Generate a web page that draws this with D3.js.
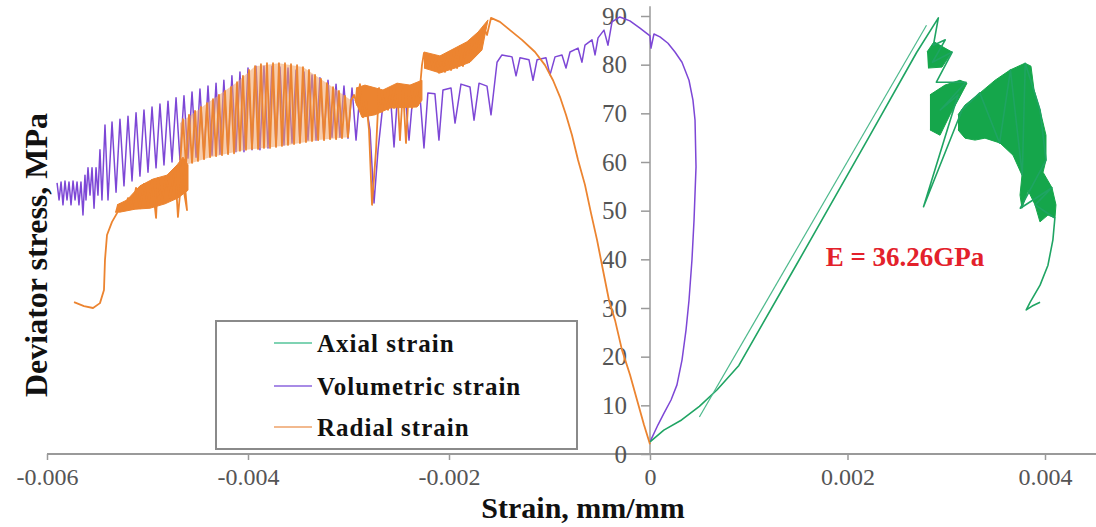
<!DOCTYPE html>
<html>
<head>
<meta charset="utf-8">
<script src="https://d3js.org/d3.v7.min.js"></script>
<style>
  body { margin: 0; background: #fff; }
  svg { display: block; }
  text { font-family: "Liberation Serif", "Times New Roman", serif; }
</style>
</head>
<body>
<div id="chart"></div>
<script>
'use strict';

// tick values
const strainTicks = [-0.006, -0.004, -0.002, 0, 0.002, 0.004];
const stressTicks = [0, 10, 20, 30, 40, 50, 60, 70, 80, 90];

const seriesNames = ['Axial strain', 'Volumetric strain', 'Radial strain'];
const modulusLabel = 'E = 36.26GPa';

// [strain, deviator stress], in loading order
const axialStrain = [
  [0, 2.5], [0.00014, 4.9], [0.00032, 7.0], [0.0005, 9.8], [0.00068, 13.2], [0.0009, 18.2],
  [0.0015, 39.5], [0.0022, 64.5], [0.0027, 82.5], [0.00292, 89.6],
  [0.00287, 84.0], [0.00299, 85.1], [0.00286, 80.5], [0.00306, 82.6], [0.0029, 76.4], [0.0032, 76.4],
  [0.00294, 70.7], [0.00312, 73.8], [0.00277, 50.8], [0.00316, 70.7], [0.00334, 74.2], [0.00354, 63.9],
  [0.00365, 78.9], [0.00377, 57.3], [0.0038, 80.3], [0.00395, 70.7], [0.00401, 60.4], [0.00375, 50.5],
  [0.00407, 54.7], [0.0039, 51.2], [0.0041, 48.5], [0.00408, 44.0], [0.00403, 38.8], [0.00395, 34.7],
  [0.00385, 31.2], [0.00381, 29.6], [0.00387, 30.4], [0.00395, 31.2]
];

// linear fit used for the modulus
const axialFit = [[0.0005, 7.6], [0.0028, 88.1]];

// dense post-peak cycles of the axial curve, drawn as filled outlines
const axialBands = [
  [[0.002805, 82.6], [0.002876, 84.7], [0.002987, 83.4], [0.003058, 82.6], [0.002957, 79.5], [0.002815, 79.3]],
  [[0.002835, 73.8], [0.002987, 75.8], [0.003139, 76.8], [0.00321, 76.2], [0.003119, 72.7], [0.003038, 69.7],
   [0.002937, 65.5], [0.002835, 66.6]],
  [[0.003119, 69.7], [0.00319, 71.7], [0.003342, 74.2], [0.003494, 76.8], [0.003646, 78.9], [0.003797, 80.3],
   [0.003858, 79.7], [0.003889, 74.8], [0.003949, 70.7], [0.00401, 65.5], [0.00401, 60.4], [0.00398, 57.9],
   [0.004071, 54.7], [0.004111, 51.2], [0.004101, 48.5], [0.00403, 49.1], [0.003949, 47.7], [0.003899, 51.2],
   [0.003828, 54.2], [0.003767, 50.5], [0.003747, 53.2], [0.003767, 57.3], [0.003676, 61.4], [0.003544, 63.9],
   [0.003392, 64.9], [0.003291, 64.5], [0.00319, 64.9], [0.003119, 66.6]]
];

const volumetricStrain = [
  [0, 2.5], [0.000081, 6.0], [0.000142, 8.4], [0.000213, 11.1], [0.000273, 14.2], [0.000324, 19.3],
  [0.000365, 25.5], [0.000395, 31.6], [0.000425, 39.9], [0.000446, 48.1], [0.000466, 59.0], [0.000456, 68.6],
  [0.000435, 72.7], [0.000395, 76.8], [0.000324, 80.5], [0.000253, 82.6], [0.000182, 84.4], [0.000101, 85.7],
  [0.00004, 86.3], [0.00001, 83.4], [0, 85.9], [-0.0001, 87.5], [-0.0002, 89.0], [-0.0003, 89.8],
  [-0.000378, 88.8], [-0.000418, 84.0], [-0.000458, 87.1], [-0.000517, 85.5], [-0.000547, 82.0], [-0.000577, 85.1],
  [-0.000647, 84.0], [-0.000677, 80.5], [-0.000716, 83.4], [-0.000796, 82.6], [-0.000836, 79.3], [-0.000876, 82.0],
  [-0.000945, 81.6], [-0.000995, 77.9], [-0.001035, 81.4], [-0.001124, 81.0], [-0.001164, 76.8], [-0.001204, 81.0],
  [-0.001294, 81.4], [-0.001333, 77.7], [-0.001373, 81.6], [-0.001473, 82.0], [-0.001522, 80.5], [-0.001582, 69.7],
  [-0.001622, 75.6], [-0.001701, 76.2], [-0.001751, 68.6], [-0.001791, 75.4], [-0.001881, 76.0], [-0.00194, 68.0],
  [-0.00198, 75.2], [-0.00206, 74.8], [-0.0021, 64.5], [-0.00214, 74.0], [-0.00221, 74.2], [-0.002249, 62.9],
  [-0.002289, 73.6], [-0.002358, 74.0], [-0.002398, 64.5], [-0.002438, 74.4], [-0.002507, 75.2], [-0.002547, 63.1],
  [-0.002587, 74.8], [-0.002647, 73.8], [-0.002706, 62.5], [-0.002746, 51.6], [-0.002786, 66.6], [-0.002836, 73.2],
  [-0.002886, 74.2],
  [-0.002925, 64.5], [-0.002965, 75.2], [-0.003005, 64.9], [-0.003045, 75.6], [-0.003085, 65.1], [-0.003124, 76.0],
  [-0.003164, 65.1], [-0.003204, 76.8], [-0.003244, 64.9], [-0.003284, 77.3], [-0.003323, 64.5], [-0.003363, 77.9],
  [-0.003403, 64.5], [-0.003443, 78.5], [-0.003483, 64.1], [-0.003522, 78.9], [-0.003562, 63.9], [-0.003602, 79.3],
  [-0.003642, 63.5], [-0.003682, 79.5], [-0.003721, 63.3], [-0.003761, 79.7], [-0.003801, 62.9], [-0.003841, 79.7],
  [-0.003881, 62.5], [-0.00392, 79.7], [-0.00396, 62.5], [-0.004, 79.3], [-0.00404, 62.1], [-0.00408, 78.5],
  [-0.00412, 62.1], [-0.00416, 77.7], [-0.0042, 61.8], [-0.00424, 76.8], [-0.004279, 61.6], [-0.004318, 76.2],
  [-0.004358, 61.4], [-0.004398, 75.6], [-0.004438, 61.2], [-0.004478, 75.0], [-0.004517, 61.0], [-0.004557, 74.4],
  [-0.004597, 60.8], [-0.004637, 73.6], [-0.004677, 60.4], [-0.004716, 73.2], [-0.004756, 60.0], [-0.004796, 72.5],
  [-0.004836, 59.4], [-0.004876, 71.9], [-0.004915, 58.8], [-0.004955, 71.3], [-0.004995, 57.9], [-0.005035, 70.7],
  [-0.005075, 57.1], [-0.005114, 70.1], [-0.005154, 56.1], [-0.005194, 69.4], [-0.005234, 55.1], [-0.005274, 68.8],
  [-0.005313, 53.8], [-0.005353, 68.2], [-0.005393, 52.2], [-0.005423, 67.6], [-0.005453, 52.2], [-0.005473, 62.5],
  [-0.005493, 53.2], [-0.005512, 58.8], [-0.005532, 50.5], [-0.005552, 58.8], [-0.005572, 53.2], [-0.005592, 58.8],
  [-0.005612, 52.2], [-0.005622, 57.3], [-0.005642, 49.1], [-0.005662, 55.9], [-0.005682, 51.2], [-0.005701, 55.9],
  [-0.005721, 52.2], [-0.005741, 56.1], [-0.005761, 51.2], [-0.005781, 55.9], [-0.005801, 52.2], [-0.005821, 56.1],
  [-0.005841, 51.2], [-0.00586, 55.9], [-0.00588, 52.2], [-0.0059, 55.7]
];

const radialStrain = [
  [0, 2.0], [-0.00006, 6.0], [-0.000129, 11.1], [-0.000199, 16.3], [-0.000279, 21.4], [-0.000348, 27.5],
  [-0.000408, 31.6], [-0.000468, 37.8], [-0.000527, 44.0], [-0.000587, 49.5], [-0.000647, 55.3], [-0.000716, 60.4],
  [-0.000776, 65.5], [-0.000836, 69.7], [-0.000896, 73.4], [-0.000965, 76.8], [-0.001045, 79.9], [-0.001144, 82.6],
  [-0.001274, 85.1], [-0.001393, 87.1], [-0.001493, 88.8], [-0.001582, 89.6],
  [-0.001622, 86.1], [-0.001652, 87.5], [-0.001682, 83.0], [-0.001711, 86.3], [-0.001741, 81.8], [-0.001771, 85.1],
  [-0.001801, 80.5], [-0.001831, 84.2], [-0.001861, 79.7], [-0.00189, 83.8], [-0.00192, 79.3], [-0.00195, 83.0],
  [-0.00198, 78.9], [-0.00201, 82.4], [-0.00204, 78.5], [-0.00207, 81.8], [-0.0021, 78.3], [-0.002129, 81.8],
  [-0.002159, 78.9], [-0.002189, 82.0], [-0.002219, 79.3], [-0.002249, 82.4], [-0.002269, 79.9], [-0.002289, 75.2],
  [-0.002308, 71.7], [-0.002338, 74.8], [-0.002368, 71.1], [-0.002398, 75.6], [-0.002428, 63.9], [-0.002458, 75.2],
  [-0.002488, 64.5], [-0.002517, 76.0], [-0.002547, 71.1], [-0.002577, 75.2], [-0.002607, 70.7], [-0.002637, 74.8],
  [-0.002667, 70.3], [-0.002697, 75.2], [-0.002726, 62.5], [-0.002766, 51.2], [-0.002796, 66.6], [-0.002826, 72.7],
  [-0.002856, 69.2], [-0.002886, 76.0], [-0.002915, 71.7], [-0.002945, 73.8],
  [-0.002975, 72.7], [-0.003005, 65.1], [-0.003035, 73.6], [-0.003065, 64.9], [-0.003095, 74.6], [-0.003124, 64.7],
  [-0.003154, 75.4], [-0.003184, 64.7], [-0.003214, 76.2], [-0.003244, 64.5], [-0.003274, 77.1], [-0.003303, 64.5],
  [-0.003333, 77.9], [-0.003363, 64.3], [-0.003393, 78.9], [-0.003423, 64.1], [-0.003453, 79.5], [-0.003483, 63.9],
  [-0.003512, 79.9], [-0.003542, 63.7], [-0.003572, 80.1], [-0.003602, 63.5], [-0.003632, 80.3], [-0.003662, 63.3],
  [-0.003692, 80.3], [-0.003721, 63.1], [-0.003751, 80.3], [-0.003781, 62.9], [-0.003811, 80.3], [-0.003841, 62.9],
  [-0.003871, 80.1], [-0.0039, 62.7], [-0.00393, 79.7], [-0.00396, 62.7], [-0.00399, 78.9], [-0.00402, 62.5],
  [-0.00405, 77.7], [-0.00408, 62.3], [-0.004109, 76.4], [-0.004139, 61.8], [-0.004169, 75.4], [-0.004199, 61.6],
  [-0.004229, 74.6], [-0.004259, 61.4], [-0.004289, 73.8], [-0.004318, 61.2], [-0.004348, 72.9], [-0.004378, 61.0],
  [-0.004408, 72.1], [-0.004438, 60.6], [-0.004468, 71.3], [-0.004498, 60.2], [-0.004527, 70.5], [-0.004557, 59.8],
  [-0.004587, 69.7], [-0.004617, 59.4], [-0.004647, 68.8], [-0.004677, 59.0],
  [-0.004607, 50.1], [-0.004647, 60.4], [-0.004697, 48.7], [-0.004726, 58.8], [-0.004776, 52.6], [-0.004816, 57.1],
  [-0.004856, 51.6], [-0.004896, 56.7], [-0.004915, 48.5], [-0.004955, 56.3], [-0.004995, 50.8], [-0.005035, 55.5],
  [-0.005075, 50.5], [-0.005114, 54.7], [-0.005154, 50.5], [-0.005194, 52.6], [-0.005234, 50.1], [-0.005274, 51.4],
  [-0.005303, 49.5], [-0.005353, 47.7], [-0.005403, 45.0], [-0.005423, 39.9], [-0.005433, 33.7], [-0.005473, 31.0],
  [-0.005542, 30.0], [-0.005632, 30.4], [-0.005731, 31.2]
];

// dense cycles of the radial curve, drawn as filled outlines
const radialBands = [
  [[-0.002249, 82.6], [-0.00209, 81.8], [-0.00196, 83.2], [-0.001821, 84.7], [-0.001711, 86.7], [-0.001612, 89.2],
   [-0.001672, 83.0], [-0.001791, 80.5], [-0.00194, 79.3], [-0.00209, 78.3], [-0.002249, 79.3]],
  [[-0.002925, 75.2], [-0.002836, 75.8], [-0.002657, 74.8], [-0.002517, 76.2], [-0.002388, 75.8], [-0.002269, 76.8],
   [-0.002269, 72.7], [-0.002318, 71.3], [-0.002587, 71.1], [-0.002736, 69.7], [-0.002866, 69.2], [-0.002935, 72.7]],
  [[-0.005303, 51.2], [-0.005204, 52.2], [-0.005075, 55.1], [-0.004945, 56.5], [-0.004806, 57.3], [-0.004706, 59.4],
   [-0.004647, 61.0], [-0.004597, 59.4], [-0.004597, 54.2], [-0.004697, 52.6], [-0.004826, 51.4], [-0.004975, 50.5],
   [-0.005124, 50.3], [-0.005274, 49.7], [-0.005323, 49.7]]
];

// the hatched dome of radial cycles
const radialDome = [
  [-0.004677, 68.0], [-0.004378, 72.5], [-0.004109, 76.4], [-0.00393, 79.7], [-0.003692, 80.3], [-0.003453, 79.5],
  [-0.003214, 76.2], [-0.002975, 72.7], [-0.003005, 65.1], [-0.003303, 64.5], [-0.003662, 63.3], [-0.00402, 62.5],
  [-0.004378, 61.0], [-0.004677, 59.0]
];

const colors = { axial: '#1fa463', axialFill: '#15a64b', fit: '#4db98c', vol: '#7d47d6', radial: '#ec8430',
                 legend: ['#7fd3b3', '#a88be6', '#f2b98e'] };

const width = 1096, height = 527;

const svg = d3.select('#chart').append('svg')
    .attr('width', width)
    .attr('height', height);

svg.append('rect').attr('width', width).attr('height', height).attr('fill', '#fff');

const x = d3.scaleLinear().domain([-0.006, 0, 0.004]).range([47, 650, 1045]);
const y = d3.scaleLinear().domain([0, 90]).range([454, 16]);

const line = d3.line().x(d => x(d[0])).y(d => y(d[1]));

// x axis
const gx = svg.append('g')
    .attr('transform', 'translate(0,' + y(0) + ')')
    .call(d3.axisBottom(x).tickValues(strainTicks).tickSize(6).tickPadding(8)
        .tickFormat(d => d === 0 ? '0' : d.toFixed(3)));
gx.select('.domain').remove();
gx.selectAll('.tick line').attr('stroke', '#9a9a9a').attr('stroke-width', 1.5);
gx.selectAll('.tick text').attr('fill', '#555').style('font-size', '24px');
svg.append('line')
    .attr('x1', x(-0.006)).attr('x2', width)
    .attr('y1', y(0)).attr('y2', y(0))
    .attr('stroke', '#9a9a9a').attr('stroke-width', 2);

// y axis
const gy = svg.append('g')
    .attr('transform', 'translate(' + x(0) + ',0)')
    .call(d3.axisLeft(y).tickValues(stressTicks).tickSize(9).tickPadding(14));
gy.select('.domain').remove();
gy.selectAll('.tick line').attr('stroke', '#9a9a9a').attr('stroke-width', 1.5);
gy.selectAll('.tick text').attr('fill', '#555').style('font-size', '25px');
svg.append('line')
    .attr('x1', x(0)).attr('x2', x(0))
    .attr('y1', y(0)).attr('y2', y(92))
    .attr('stroke', '#9a9a9a').attr('stroke-width', 1.5);

// volumetric strain
svg.append('path').datum(volumetricStrain)
    .attr('d', line).attr('fill', 'none')
    .attr('stroke', colors.vol).attr('stroke-width', 1.5).attr('stroke-linejoin', 'round');

// radial strain
svg.append('path').datum(radialDome)
    .attr('d', line).attr('fill', '#f1a46a').attr('fill-opacity', 0.55).attr('stroke', 'none');
svg.selectAll('.radial-band').data(radialBands).enter().append('path')
    .attr('class', 'radial-band')
    .attr('d', line).attr('fill', colors.radial).attr('stroke', colors.radial).attr('stroke-width', 1);
svg.append('path').datum(radialStrain)
    .attr('d', line).attr('fill', 'none')
    .attr('stroke', colors.radial).attr('stroke-width', 1.8).attr('stroke-linejoin', 'round');

// axial strain
svg.selectAll('.axial-band').data(axialBands).enter().append('path')
    .attr('class', 'axial-band')
    .attr('d', line).attr('fill', colors.axialFill).attr('stroke', colors.axialFill).attr('stroke-width', 1);
svg.append('path').datum(axialStrain)
    .attr('d', line).attr('fill', 'none')
    .attr('stroke', colors.axial).attr('stroke-width', 1.6).attr('stroke-linejoin', 'round');
svg.append('path').datum(axialFit)
    .attr('d', line).attr('fill', 'none')
    .attr('stroke', colors.fit).attr('stroke-width', 1.2);

svg.append('text')
    .attr('x', 905).attr('y', 266)
    .attr('text-anchor', 'middle')
    .attr('fill', '#e3212b')
    .style('font-size', '27px').style('font-weight', 'bold')
    .text(modulusLabel);

// legend
const legend = svg.append('g');
legend.append('rect')
    .attr('x', 216).attr('y', 321).attr('width', 361).attr('height', 128)
    .attr('fill', '#fff').attr('stroke', '#8a8a8a').attr('stroke-width', 2);
const rows = legend.selectAll('.row').data(seriesNames).enter().append('g')
    .attr('transform', (d, i) => 'translate(274,' + [343, 386, 427][i] + ')');
rows.append('line')
    .attr('x1', 0).attr('x2', 38)
    .attr('stroke', (d, i) => colors.legend[i]).attr('stroke-width', 2);
rows.append('text')
    .attr('x', 43).attr('dy', '0.35em')
    .attr('fill', '#111')
    .style('font-size', '25px').style('font-weight', 'bold').style('letter-spacing', '1px')
    .text(d => d);

// axis titles
svg.append('text')
    .attr('x', 583).attr('y', 518)
    .attr('text-anchor', 'middle')
    .attr('fill', '#111')
    .style('font-size', '30px').style('font-weight', 'bold')
    .text('Strain, mm/mm');

svg.append('text')
    .attr('transform', 'translate(47,255) rotate(-90)')
    .attr('text-anchor', 'middle')
    .attr('fill', '#111')
    .style('font-size', '32px').style('font-weight', 'bold')
    .text('Deviator stress, MPa');
</script>
</body>
</html>
